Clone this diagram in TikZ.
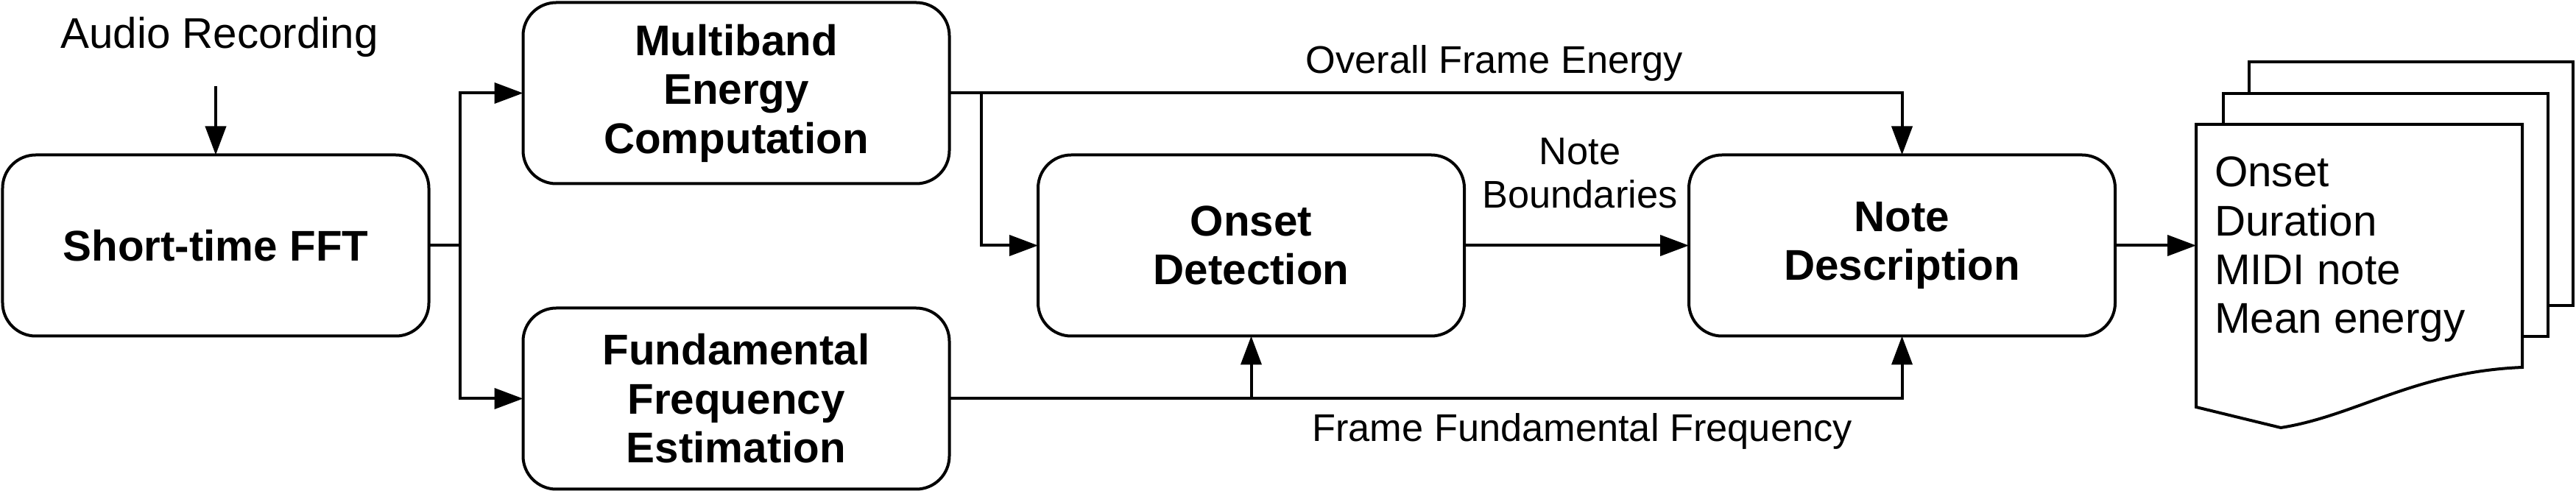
\documentclass[tikz,border=0pt]{standalone}
\usepackage{fontspec}
\setmainfont{Liberation Sans}
\usetikzlibrary{arrows.meta}
\begin{document}
\begin{tikzpicture}[
  line width=0.04cm,
  blk/.style={draw, rounded corners=0.45cm, inner sep=0pt, outer sep=0pt,
    minimum width=5.79cm, minimum height=2.46cm, align=center,
    font=\fontsize{16.6}{18.9}\selectfont\bfseries},
  lbl/.style={inner sep=0pt, align=center, font=\fontsize{14.9}{17}\selectfont},
  txt/.style={inner sep=0pt, align=left, font=\fontsize{16.6}{18.9}\selectfont},
  arr/.style={-{Triangle[length=0.39cm,width=0.28cm]}},
  page/.style={draw, fill=white, line join=miter}
]
\useasboundingbox (0,0) rectangle (34.99,6.67);

% boxes
\node[blk] (fft) at (2.93,3.335) {Short-time FFT};
\node[blk] (mb) at (10.00,5.405) {Multiband\\Energy\\Computation};
\node[blk] (fund) at (10.00,1.255) {Fundamental\\Frequency\\Estimation};
\node[blk] (onset) at (16.995,3.335) {Onset\\Detection};
\node[blk] (nd) at (25.835,3.335) {Note\\Description};

% input
\node[txt, anchor=base] (audio) at (2.98,6.01) {Audio Recording};
\coordinate (ain) at (2.93,5.50);
\draw[arr] (ain) -- (fft.north);

% split after FFT
\coordinate (split) at (6.25,3.335);
\draw (fft.east) -- (split);
\draw[arr] (split) |- (mb.west);
\draw[arr] (split) |- (fund.west);

% energy
\draw[arr] (mb.east) -| (nd.north);
\coordinate (b2) at (13.33,5.405);
\draw[arr] (b2) |- (onset.west);
\node[lbl, anchor=base] (ofe) at (20.30,5.67) {Overall Frame Energy};

% fundamental frequency
\draw[arr] (fund.east) -| (nd.south);
\coordinate (b3) at (onset.south |- fund.east);
\draw[arr] (b3) -- (onset.south);
\node[lbl, anchor=base] (ffq) at (21.49,0.67) {Frame Fundamental Frequency};

% note boundaries
\draw[arr] (onset.east) -- (nd.west);
\node[lbl, anchor=base] (nbl) at (21.46,3.84) {Note\\Boundaries};

% output documents
\draw[page] (30.55,2.52) rectangle (34.95,5.83);
\draw[page] (30.20,2.10) rectangle (34.61,5.40);
\draw[page] (29.83,4.98) -- (34.26,4.98) -- (34.26,1.68)
  .. controls (32.80,1.62) and (32.00,1.02) .. (30.98,0.86)
  -- (29.83,1.14) -- cycle;
\coordinate (docin) at (29.83,3.335);
\draw[arr] (nd.east) -- (docin);
\node[txt, anchor=base west] (out) at (30.06,2.14) {Onset\\Duration\\MIDI note\\Mean energy};
\end{tikzpicture}
\end{document}
